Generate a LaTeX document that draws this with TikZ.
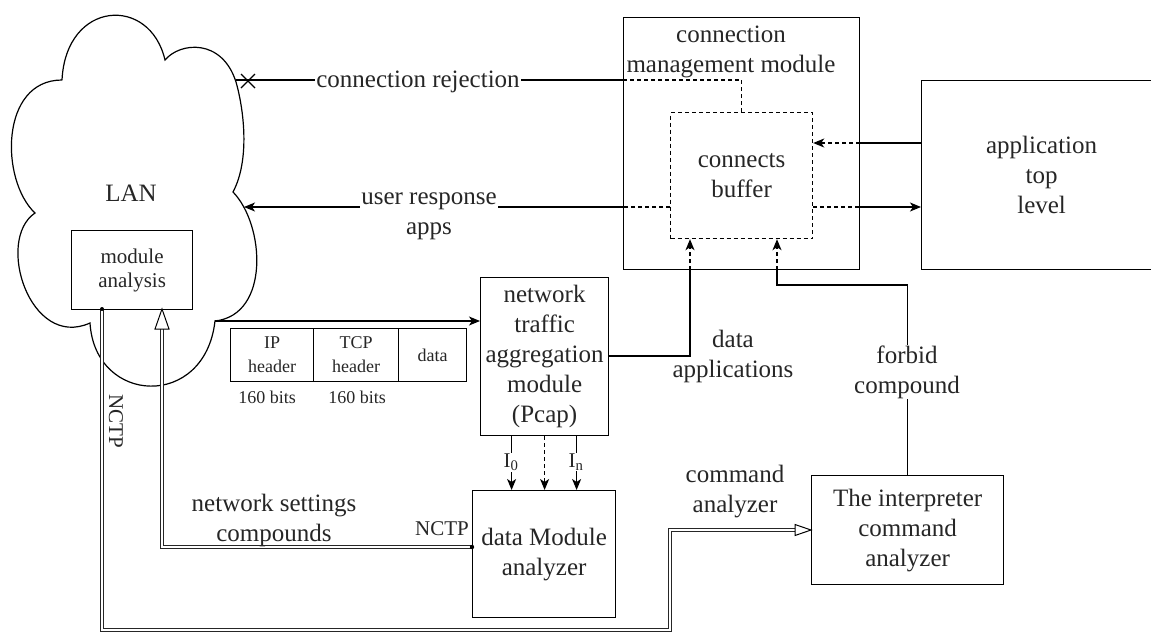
\documentclass[tikz,border=0pt]{standalone}
\usepackage{fontspec}
\setmainfont{Liberation Serif}
\usetikzlibrary{arrows.meta,calc}
\newcommand\fsMain{\fontsize{25}{30}\selectfont}
\newcommand\fsMA{\fontsize{21}{24}\selectfont}
\newcommand\fsSmall{\fontsize{18}{24}\selectfont}
\newcommand\fsNC{\fontsize{21}{24}\selectfont}
\begin{document}
\begin{tikzpicture}[x=1pt,y=-1pt,
  box/.style={draw,line width=1.2pt,inner sep=0pt,align=center,font=\fsMain,text=black!85,anchor=north west},
  dbox/.style={box,dash pattern=on 4pt off 3pt},
  lbl/.style={font=\fsMain,align=center,inner sep=1pt,text=black!85},
  wl/.style={lbl,fill=white},
  ln/.style={line width=1.2pt},
  dl/.style={line width=1.2pt,dash pattern=on 4pt off 3pt},
  arr/.style={-{Stealth[length=11pt,width=9pt,inset=3pt]}},
  pipe/.style={draw=black!85,line width=0.9pt,double=white,double distance=2.4pt},
  hollow/.style={draw=black,line width=1pt,fill=white,line join=miter}]
\useasboundingbox (0,0) rectangle (1151,633);

% ---------- cloud (LAN) ----------
\draw[line width=1.2pt,line cap=round] (62,80)
 .. controls (66,0) and (150,-5) .. (165,60)
 .. controls (180,42) and (222,38) .. (236,82)
 .. controls (244,110) and (250,160) .. (233,192)
 .. controls (265,225) and (270,315) .. (215,321)
 .. controls (205,410) and (95,405) .. (90,323)
 .. controls (30,350) and (-5,240) .. (35,213)
 .. controls (0,180) and (0,80) .. (62,80);
\coordinate (cRej) at (236,80);
\coordinate (cResp) at (244,207);
\coordinate (cOut) at (215,321);
\node[lbl] (lan) at (131,193) {LAN};

% ---------- boxes ----------
\node[box,font=\fsMA,minimum width=121,minimum height=79] (ma) at (71,230) {module\\analysis};
\node[box,minimum width=236,minimum height=252] (cmm) at (623,17) {};
\node[lbl] (cmmt) at (731,52) {connection\\management module};
\node[dbox,minimum width=142,minimum height=126] (buf) at (670,112) {connects\\buffer};
\node[box,minimum width=240,minimum height=189] (app) at (921,80) {application\\top\\level};
\node[box,minimum width=128,minimum height=158] (pcap) at (480,277) {network\\traffic\\aggregation\\module\\(Pcap)};
\node[box,minimum width=143,minimum height=127] (dm) at (472,490) {data Module\\analyzer};
\node[box,minimum width=192,minimum height=109] (ia) at (811,475) {The interpreter\\command\\analyzer};

% packet
\node[box,font=\fsSmall,minimum width=83,minimum height=53] (ip) at (230,328) {IP\\header};
\node[box,font=\fsSmall,minimum width=85,minimum height=53] (tcp) at (313,328) {TCP\\header};
\node[box,font=\fsSmall,minimum width=68,minimum height=53] (dat) at (398,328) {data};
\node[lbl,font=\fsSmall] (b1) at (267,397) {160 bits};
\node[lbl,font=\fsSmall] (b2) at (357,397) {160 bits};

% ---------- connectors ----------
% connection rejection
\draw[dl] (buf.north) -- (buf.north |- cRej) -- (cmm.west |- cRej);
\draw[ln] (cmm.west |- cRej) -- (cRej);
\draw[ln] (241,74) -- (255,88) (241,88) -- (255,74);
\node[wl] (rejl) at (418,82) {connection rejection};

% user response apps
\draw[dl] (buf.west |- cResp) -- (cmm.west |- cResp);
\draw[ln,arr] (cmm.west |- cResp) -- (cResp);
\node[wl] (respl) at (429,216) {user response\\apps};

% app <-> buffer
\coordinate (a1) at (921,143);
\coordinate (a2) at (921,207);
\draw[ln] (a1) -- (cmm.east |- a1);
\draw[dl,arr] (cmm.east |- a1) -- (buf.east |- a1);
\draw[dl] (buf.east |- a2) -- (cmm.east |- a2);
\draw[ln,arr] (cmm.east |- a2) -- (a2);

% cloud -> pcap
\draw[ln,arr] (cOut) -- (pcap.west |- cOut);

% pcap -> buffer (data applications)
\coordinate (da) at (690,356);
\draw[ln] (pcap.east |- da) -- (da) -- (da |- cmm.south);
\draw[dl,arr] (da |- cmm.south) -- (da |- buf.south);
\node[lbl] (dal) at (733,356) {data\\applications};

% interpreter -> buffer (forbid compound)
\coordinate (fc) at (777,285);
\draw[ln] (ia.north) -- (ia.north |- fc) -- (fc) -- (fc |- cmm.south);
\draw[dl,arr] (fc |- cmm.south) -- (fc |- buf.south);
\node[wl] (fcl) at (907,372) {forbid\\compound};

% pcap -> data module
\draw[ln,arr] ([xshift=-33]pcap.south) -- ([xshift=-33]pcap.south |- dm.north);
\draw[dl,arr] (pcap.south) -- (pcap.south |- dm.north);
\draw[ln,arr] ([xshift=32]pcap.south) -- ([xshift=32]pcap.south |- dm.north);
\node[lbl,fill=white,font=\fsNC] (i0) at (511,462) {I\textsubscript{0}};
\node[lbl,fill=white,font=\fsNC] (in) at (576,462) {I\textsubscript{n}};

% pipe: module analysis -> interpreter (NCTP)
\coordinate (p1s) at (102,309);
\coordinate (p1b) at (102,630);
\coordinate (p1c) at (670,630);
\coordinate (p1d) at (670,530);
\coordinate (p1e) at (795,530);
\draw[pipe] (p1s) -- (p1b) -- (p1c) -- (p1d) -- (p1e);
\draw[hollow] (ia.west |- p1d) -- (795,524.5) -- (795,535.5) -- cycle;
\fill (p1s) circle (2);
\node[lbl,font=\fsNC,rotate=-90] (nctp1) at (116,421) {NCTP};
\node[lbl] (cal) at (735,492) {command\\analyzer};

% pipe: data module -> module analysis
\coordinate (p2s) at (472,547);
\coordinate (p2b) at (162,547);
\coordinate (p2e) at (162,329);
\draw[pipe] (p2s) -- (p2b) -- (p2e);
\draw[hollow] (162,309) -- (169,329) -- (155,329) -- cycle;
\fill (p2s) circle (2.2);
\node[lbl,font=\fsNC] (nctp2) at (442,529) {NCTP};
\node[lbl] (nsc) at (274,520) {network settings\\compounds};
\end{tikzpicture}
\end{document}
